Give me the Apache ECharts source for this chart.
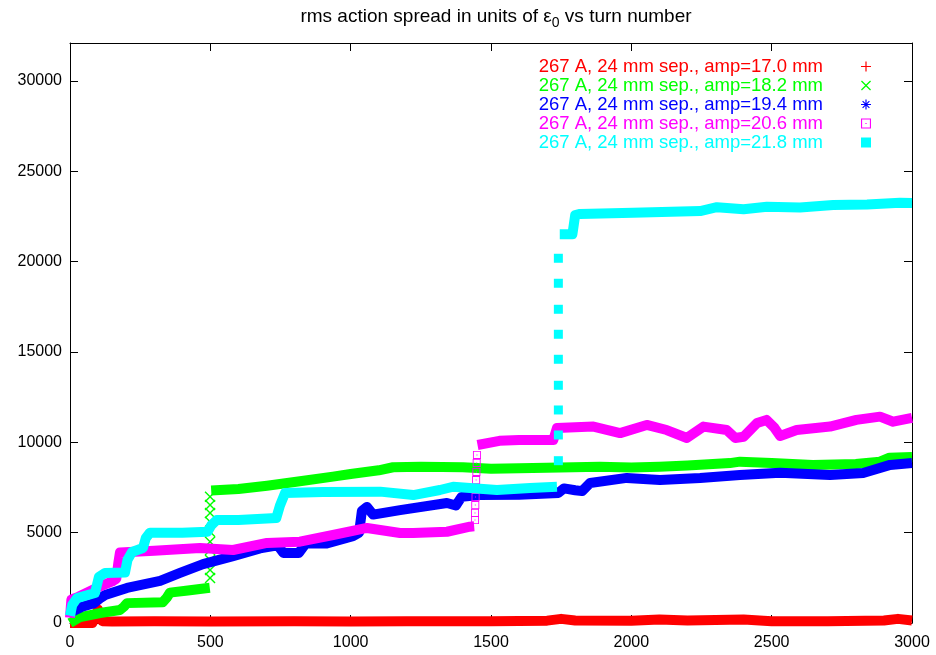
<!DOCTYPE html>
<html><head><meta charset="utf-8">
<script src="https://cdn.jsdelivr.net/npm/echarts@6/dist/echarts.min.js"></script>
<style>html,body{margin:0;padding:0;background:#fff}#c{width:936px;height:655px}</style>
</head><body><div id="c"></div>
<script>
// ---- data (turn number, rms action spread) ----
const seriesNames = [
  '267 A, 24 mm sep., amp=17.0 mm',
  '267 A, 24 mm sep., amp=18.2 mm',
  '267 A, 24 mm sep., amp=19.4 mm',
  '267 A, 24 mm sep., amp=20.6 mm',
  '267 A, 24 mm sep., amp=21.8 mm'
];
const xTicks = [0, 500, 1000, 1500, 2000, 2500, 3000];
const yTicks = [0, 5000, 10000, 15000, 20000, 25000, 30000];

const red = [[0,0],[80,0],[92,400],[100,750],[106,400],[115,100],[150,80],[300,90],[500,80],[800,90],[1000,80],[1200,90],[1500,90],[1700,130],[1750,230],[1800,140],[2000,130],[2100,200],[2200,140],[2400,190],[2500,100],[2700,100],[2900,140],[2950,230],[3000,140]];

const greenLow = [[0,0],[36,330],[107,550],[178,720],[192,900],[203,1100],[330,1150],[345,1400],[356,1680],[420,1800],[498,1950]];
const greenJump = [[499,2490],[499,2930],[499,3490],[499,4040],[499,4500],[499,5050],[499,5610],[499,6090],[499,6530],[499,6990]];
const greenHigh = [[503,7330],[600,7420],[702,7600],[800,7800],[937,8100],[1000,8250],[1100,8450],[1151,8620],[1250,8650],[1400,8620],[1500,8540],[1600,8560],[1746,8600],[1888,8650],[2000,8600],[2100,8650],[2200,8720],[2351,8850],[2387,8930],[2500,8850],[2647,8750],[2800,8800],[2886,8930],[2920,9150],[3000,9190]];

const blue = [[5,600],[43,900],[86,1100],[110,1400],[125,1550],[203,1940],[321,2330],[392,2770],[474,3260],[581,3700],[677,4130],[740,4300],[760,3880],[815,3870],[840,4400],[915,4400],[1008,4800],[1030,5000],[1040,6200],[1058,6420],[1080,6000],[1176,6250],[1343,6640],[1375,6500],[1395,6980],[1460,7080],[1600,7100],[1740,7200],[1760,7450],[1800,7350],[1825,7300],[1853,7750],[1984,8030],[2102,7920],[2245,8030],[2387,8190],[2530,8320],[2708,8190],[2826,8300],[2922,8750],[3000,8850]];

const magentaA = [[0,300],[5,1300],[30,1450],[89,1900],[150,2300],[165,2450],[172,3300],[178,3900],[300,4000],[463,4150],[581,4040],[702,4430],[819,4500],[937,4870],[1058,5260],[1176,4980],[1223,4980],[1343,5050],[1425,5330],[1440,5350]];
const magentaJump = [[1443,5700],[1443,6090],[1444,6530],[1445,6970],[1446,7440],[1447,7910],[1448,8360],[1449,8860],[1450,9300]];
const magentaB = [[1452,9850],[1530,10080],[1600,10130],[1722,10130],[1735,10790],[1865,10870],[1960,10510],[2055,10960],[2126,10680],[2198,10240],[2257,10870],[2340,10680],[2370,10240],[2400,10310],[2448,11070],[2482,11240],[2510,10800],[2530,10350],[2589,10680],[2708,10870],[2802,11240],[2886,11420],[2933,11140],[3000,11350]];

const cyanA = [[0,400],[8,1000],[25,1380],[89,1660],[103,2550],[125,2770],[196,2800],[205,3500],[221,3930],[260,4150],[270,4700],[285,5000],[400,5000],[490,5050],[503,5400],[523,5700],[600,5700],[735,5810],[748,6500],[766,7190],[900,7250],[1105,7270],[1223,7080],[1318,7360],[1365,7540],[1521,7360],[1639,7470],[1735,7540]];
const cyanJump = [[1740,8983],[1740,10406],[1740,11790],[1740,13157],[1740,14596],[1740,15980],[1740,17363],[1740,18803],[1740,20186]];
const cyanB = [[1745,21510],[1790,21510],[1800,22580],[1817,22640],[2006,22710],[2245,22800],[2305,23010],[2400,22900],[2483,23040],[2601,22990],[2719,23140],[2840,23160],[2957,23260],[3000,23250]];

const colors = ['#ff0000','#00ff00','#0000ff','#ff00ff','#00ffff'];
// ---- symbols ----
const PLUS = 'path://M4.4,0H5.6V4.4H10V5.6H5.6V10H4.4V5.6H0V4.4H4.4Z';
const CROSS = 'path://M0,0.9L0.9,0L5,4.1L9.1,0L10,0.9L5.9,5L10,9.1L9.1,10L5,5.9L0.9,10L0,9.1L4.1,5Z';
const STAR = 'path://M4.4,0H5.6V4.4H10V5.6H5.6V10H4.4V5.6H0V4.4H4.4Z M1.2,2L2,1.2L5,4.2L8,1.2L8.8,2L5.8,5L8.8,8L8,8.8L5,5.8L2,8.8L1.2,8L4.2,5Z';
const BOXDOT = 'path://M0,0H10V10H0Z M1.1,1.1V8.9H8.9V1.1Z M4.4,4.4H5.6V5.6H4.4Z';
const icons = [PLUS, CROSS, STAR, BOXDOT, 'rect'];

function join(...parts){ const out=[]; parts.forEach((p,i)=>{ if(i>0) out.push(null); out.push(...p); }); return out; }
function lineS(i, data){ return {type:'line', name:seriesNames[i], data:data, showSymbol:false, symbol:'none', connectNulls:false,
  lineStyle:{color:colors[i], width:10, join:'round'}, itemStyle:{color:colors[i]}, z:2+i, silent:true}; }
function jumpS(i, data, sym, size){ return {type:'scatter', name:seriesNames[i], data:data, symbol:sym, symbolSize:size,
  itemStyle:{color:colors[i], opacity:1}, z:2+i, silent:true}; }

const chart = echarts.init(document.getElementById('c'), null, {renderer:'canvas'});
const FONT = '"Liberation Sans", Arial, sans-serif';
const plain = v => String(v);
chart.setOption({
  animation:false,
  backgroundColor:'#fff',
  title:{ text:'rms action spread in units of {e|ε}{s|0} vs turn number', left:491, textAlign:'center', top:-1,
    textStyle:{ fontFamily:FONT, fontSize:19, fontWeight:'normal', color:'#000',
      rich:{ e:{fontFamily:FONT, fontSize:19, color:'#000'}, s:{fontFamily:FONT, fontSize:14, color:'#000', padding:[12,0,0,0]} } } },
  grid:{ left:70, right:24, top:43, bottom:32 },
  legend:{ right:60, top:52, orient:'vertical', align:'right', itemWidth:10, itemHeight:10, itemGap:0,
    selectedMode:false,
    textStyle:{ fontFamily:FONT, fontSize:18.5, lineHeight:18.6, padding:[0,33,0,0] },
    data: seriesNames.map((n,i)=>({name:n, icon:icons[i], textStyle:{color:colors[i]}, itemStyle:{color:colors[i]}})) },
  xAxis:[
    { type:'value', min:0, max:3000, interval:500, position:'bottom',
      axisLine:{show:true, onZero:false, lineStyle:{color:'#000', width:1}},
      axisTick:{show:true, inside:true, length:8, lineStyle:{color:'#000'}},
      axisLabel:{ fontFamily:FONT, fontSize:16, color:'#000', margin:12, formatter:plain },
      splitLine:{show:false} },
    { type:'value', min:0, max:3000, interval:500, position:'top',
      axisLine:{show:true, onZero:false, lineStyle:{color:'#000', width:1}},
      axisTick:{show:true, inside:true, length:8, lineStyle:{color:'#000'}},
      axisLabel:{show:false}, splitLine:{show:false} }
  ],
  yAxis:[
    { type:'value', min:0, max:32100, interval:5000, position:'left',
      axisLine:{show:true, onZero:false, lineStyle:{color:'#000', width:1}},
      axisTick:{show:true, inside:true, length:8, lineStyle:{color:'#000'}},
      axisLabel:{ fontFamily:FONT, fontSize:16, color:'#000', margin:8, showMaxLabel:false, formatter:plain },
      splitLine:{show:false} },
    { type:'value', min:0, max:32100, interval:5000, position:'right',
      axisLine:{show:true, onZero:false, lineStyle:{color:'#000', width:1}},
      axisTick:{show:true, inside:true, length:8, lineStyle:{color:'#000'}},
      axisLabel:{show:false}, splitLine:{show:false} }
  ],
  series:[
    lineS(0, red),
    lineS(1, join(greenLow, greenHigh)),
    jumpS(1, greenJump, CROSS, 11),
    lineS(2, blue),
    lineS(3, join(magentaA, magentaB)),
    jumpS(3, magentaJump, BOXDOT, 8),
    lineS(4, join(cyanA, cyanB)),
    jumpS(4, cyanJump, 'rect', 9)
  ]
});
</script></body></html>
